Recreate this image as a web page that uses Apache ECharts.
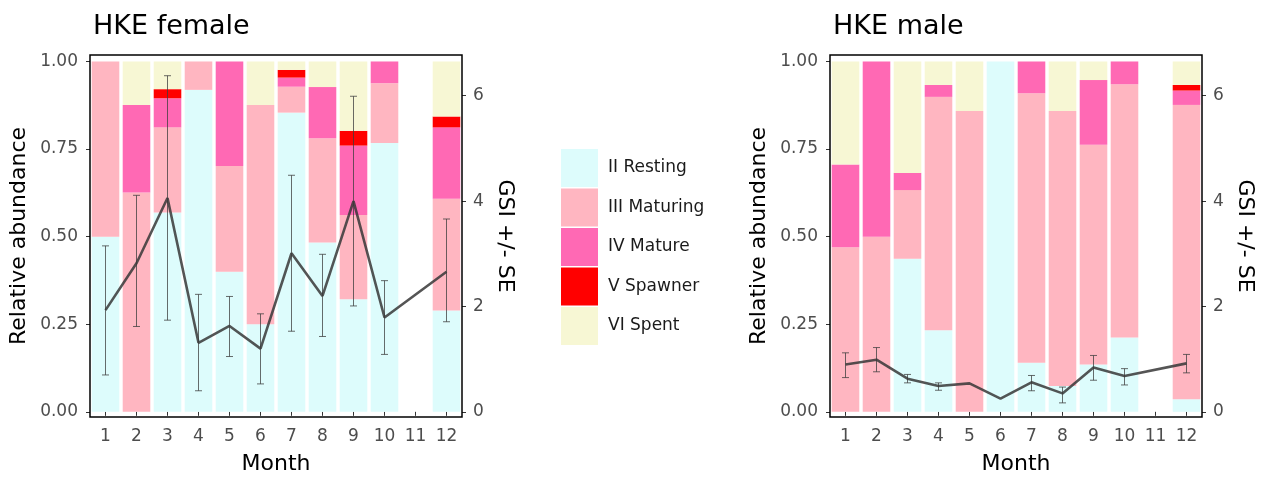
<!DOCTYPE html>
<html>
<head>
<meta charset="utf-8">
<script src="https://cdn.jsdelivr.net/npm/echarts@6/dist/echarts.min.js"></script>
<style>html,body{margin:0;padding:0;background:#fff}#c{width:1261px;height:480px}</style>
</head>
<body>
<div id="c"></div>
<script>
// ---- data ----
const months = [1, 2, 3, 4, 5, 6, 7, 8, 9, 10, 12];
const stageNames = ['II Resting', 'III Maturing', 'IV Mature', 'V Spawner', 'VI Spent'];
const stageColors = ['#DDFCFC', '#FFB6C1', '#FF69B4', '#FF0000', '#F7F7D4'];

// female relative abundance per stage
const femII  = [0.50, 0.00, 0.569, 0.919, 0.40, 0.25, 0.854, 0.483, 0.321, 0.767, 0.289];
const femIII = [0.50, 0.626, 0.243, 0.081, 0.302, 0.626, 0.074, 0.298, 0.241, 0.171, 0.319];
const femIV  = [0.00, 0.25, 0.083, 0.00, 0.298, 0.00, 0.026, 0.146, 0.198, 0.062, 0.204];
const femV   = [0.00, 0.00, 0.026, 0.00, 0.00, 0.00, 0.022, 0.00, 0.042, 0.00, 0.031];
const femVI  = [0.00, 0.124, 0.079, 0.00, 0.00, 0.124, 0.024, 0.073, 0.198, 0.00, 0.157];
// female GSI and SE bounds
const femGSI   = [1.93, 2.82, 4.06, 1.31, 1.63, 1.20, 3.01, 2.20, 4.00, 1.79, 2.66];
const femGSIlo = [0.70, 1.62, 1.74, 0.40, 1.05, 0.53, 1.53, 1.43, 2.01, 1.09, 1.71];
const femGSIhi = [3.15, 4.11, 6.38, 2.23, 2.19, 1.86, 4.49, 2.99, 5.99, 2.49, 3.66];

// male relative abundance per stage
const malII  = [0.00, 0.00, 0.437, 0.233, 0.00, 1.00, 0.14, 0.074, 0.135, 0.212, 0.036];
const malIII = [0.47, 0.50, 0.196, 0.666, 0.859, 0.00, 0.769, 0.785, 0.627, 0.723, 0.84];
const malIV  = [0.236, 0.50, 0.049, 0.034, 0.00, 0.00, 0.091, 0.00, 0.185, 0.065, 0.041];
const malV   = [0.00, 0.00, 0.00, 0.00, 0.00, 0.00, 0.00, 0.00, 0.00, 0.00, 0.016];
const malVI  = [0.294, 0.00, 0.318, 0.067, 0.141, 0.00, 0.00, 0.141, 0.053, 0.00, 0.067];
// male GSI and SE bounds
const malGSI   = [0.90, 0.99, 0.63, 0.49, 0.54, 0.25, 0.56, 0.35, 0.84, 0.68, 0.92];
const malGSIlo = [0.65, 0.76, 0.55, 0.41, null, null, 0.40, 0.17, 0.60, 0.51, 0.74];
const malGSIhi = [1.12, 1.22, 0.71, 0.55, null, null, 0.69, 0.47, 1.07, 0.82, 1.09];

const monthLabels = ['1', '2', '3', '4', '5', '6', '7', '8', '9', '10', '11', '12'];
const relTicks = [0, 0.25, 0.5, 0.75, 1];
const gsiTicks = [0, 2, 4, 6];

// ---- chart ----
const FONT = 'DejaVu Sans';
const chart = echarts.init(document.getElementById('c'));

const femStages = [femII, femIII, femIV, femV, femVI];
const malStages = [malII, malIII, malIV, malV, malVI];

// spread a per-month array onto all 12 category slots (missing month -> null)
function toCats(vals) {
  return monthLabels.map(lbl => {
    const i = months.indexOf(Number(lbl));
    return i < 0 ? null : vals[i];
  });
}

function barSeries(stages, idx, stack) {
  return stages.map((vals, s) => ({
    type: 'bar', name: stageNames[s], stack: stack,
    xAxisIndex: idx, yAxisIndex: idx * 2,
    barWidth: '89%',
    itemStyle: { color: stageColors[s] },
    data: toCats(vals),
    z: 1
  }));
}
function errSeries(lo, hi, idx) {
  return {
    type: 'custom', xAxisIndex: idx, yAxisIndex: idx * 2 + 1, z: 3,
    data: months.map((m, i) => [monthLabels.indexOf(String(m)), lo[i], hi[i]]).filter(d => d[1] != null),
    encode: { x: 0, y: [1, 2] },
    renderItem: function (params, api) {
      const x = api.value(0);
      const p1 = api.coord([x, api.value(1)]);
      const p2 = api.coord([x, api.value(2)]);
      const w = 3.5;
      const st = { stroke: 'rgba(60,60,60,0.85)', lineWidth: 0.9 };
      return { type: 'group', children: [
        { type: 'line', shape: { x1: p1[0], y1: p1[1], x2: p2[0], y2: p2[1] }, style: st },
        { type: 'line', shape: { x1: p1[0] - w, y1: p1[1], x2: p1[0] + w, y2: p1[1] }, style: st },
        { type: 'line', shape: { x1: p2[0] - w, y1: p2[1], x2: p2[0] + w, y2: p2[1] }, style: st }
      ]};
    }
  };
}
function lineSeries(vals, idx) {
  return {
    type: 'line', xAxisIndex: idx, yAxisIndex: idx * 2 + 1, z: 4,
    showSymbol: false, symbol: 'none', connectNulls: true,
    lineStyle: { color: 'rgba(55,55,55,0.85)', width: 2.6 },
    data: toCats(vals)
  };
}

const tickLabel = { color: '#4d4d4d', fontFamily: FONT, fontSize: 17 };
const nameStyle = { color: '#000', fontFamily: FONT, fontSize: 22 };

function xAx(idx) {
  return {
    type: 'category', gridIndex: idx, data: monthLabels, boundaryGap: true,
    name: 'Month', nameLocation: 'middle', nameGap: 36, nameTextStyle: nameStyle,
    axisLine: { show: false }, splitLine: { show: false },
    axisTick: { show: true, alignWithLabel: true, length: 4, lineStyle: { color: '#333' } },
    axisLabel: Object.assign({ margin: 11, interval: 0 }, tickLabel)
  };
}
function yRel(idx) {
  return {
    type: 'value', gridIndex: idx, position: 'left', min: -0.0148, max: 1.0185,
    name: 'Relative abundance', nameLocation: 'middle', nameGap: 60, nameTextStyle: nameStyle,
    axisLine: { show: false }, splitLine: { show: false },
    axisTick: { show: true, length: 4, lineStyle: { color: '#333' }, customValues: relTicks },
    axisLabel: Object.assign({ margin: 12, customValues: relTicks, formatter: v => v.toFixed(2) }, tickLabel)
  };
}
function yGsi(idx) {
  return {
    type: 'value', gridIndex: idx, position: 'right', min: -0.098, max: 6.773,
    name: 'GSI +/- SE', nameLocation: 'middle', nameGap: 32, nameRotate: -90, nameTextStyle: nameStyle,
    axisLine: { show: false }, splitLine: { show: false },
    axisTick: { show: true, length: 4, lineStyle: { color: '#333' }, customValues: gsiTicks },
    axisLabel: Object.assign({ margin: 11, customValues: gsiTicks, formatter: v => String(v) }, tickLabel)
  };
}

const option = {
  animation: false,
  backgroundColor: '#fff',
  title: [
    { text: 'HKE female', left: 88, top: 8, textStyle: { fontFamily: FONT, fontSize: 27, fontWeight: 'normal', color: '#000' } },
    { text: 'HKE male', left: 828, top: 8, textStyle: { fontFamily: FONT, fontSize: 27, fontWeight: 'normal', color: '#000' } }
  ],
  legend: {
    data: stageNames, orient: 'vertical', left: 556, top: 144,
    itemWidth: 37, itemHeight: 38, itemGap: 1.5, icon: 'rect',
    textStyle: { fontFamily: FONT, fontSize: 17, color: '#1a1a1a', padding: [0, 0, 0, 5] },
    selectedMode: false
  },
  grid: [
    { left: 90, width: 372, top: 55, height: 362.7, show: true, borderColor: '#000', borderWidth: 1.5, backgroundColor: 'transparent', z: 5 },
    { left: 830, width: 372, top: 55, height: 362.7, show: true, borderColor: '#000', borderWidth: 1.5, backgroundColor: 'transparent', z: 5 }
  ],
  xAxis: [xAx(0), xAx(1)],
  yAxis: [yRel(0), yGsi(0), yRel(1), yGsi(1)],
  series: [].concat(
    barSeries(femStages, 0, 'f'),
    barSeries(malStages, 1, 'm'),
    [errSeries(femGSIlo, femGSIhi, 0), lineSeries(femGSI, 0),
     errSeries(malGSIlo, malGSIhi, 1), lineSeries(malGSI, 1)]
  )
};
chart.setOption(option);
</script>
</body>
</html>
